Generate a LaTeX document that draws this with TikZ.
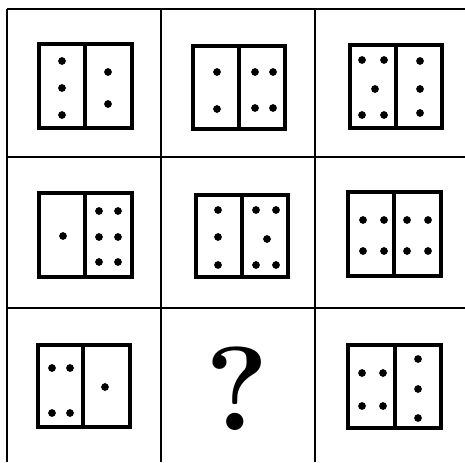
\documentclass[tikz,border=0pt]{standalone}
\usepackage{tikz}

\begin{document}
\begin{tikzpicture}[x=0.02cm, y=-0.02cm, line width=1.2pt]

\useasboundingbox (0,0) rectangle (465,462);

% Grid lines
\draw (7,9) -- (465,9);
\draw (7,157) -- (465,157);
\draw (7,308) -- (465,308);
\draw (7,9) -- (7,462);
\draw (161,9) -- (161,462);
\draw (315,9) -- (315,462);

% First row, first box
\begin{scope}[shift={(39,44)}]
\draw[line width=2pt] (0,0) rectangle (93,84);
\draw[line width=2pt] (46,0) -- (46,84);
\fill (23,17) circle (2.2pt) (23,44) circle (2.2pt) (23,71) circle (2.2pt);
\fill (69,28) circle (2.2pt) (69,60) circle (2.2pt);
\end{scope}

% First row, second box
\begin{scope}[shift={(193,46)}]
\draw[line width=2pt] (0,0) rectangle (92,83);
\draw[line width=2pt] (46,0) -- (46,83);
\fill (24,26) circle (2.2pt) (24,63) circle (2.2pt);
\fill (62,26) circle (2.2pt) (80,26) circle (2.2pt) (62,62) circle (2.2pt) (80,62) circle (2.2pt);
\end{scope}

% First row, third box
\begin{scope}[shift={(350,45)}]
\draw[line width=2pt] (0,0) rectangle (92,83);
\draw[line width=2pt] (46,0) -- (46,83);
\fill (12,15) circle (2.2pt) (34,15) circle (2.2pt) (25,44) circle (2.2pt) (12,70) circle (2.2pt) (34,70) circle (2.2pt);
\fill (70,16) circle (2.2pt) (70,44) circle (2.2pt) (70,68) circle (2.2pt);
\end{scope}

% Second row, first box
\begin{scope}[shift={(39,193)}]
\draw[line width=2pt] (0,0) rectangle (93,84);
\draw[line width=2pt] (46,0) -- (46,84);
\fill (24,43) circle (2.2pt);
\fill (60,18) circle (2.2pt) (79,18) circle (2.2pt) (60,44) circle (2.2pt) (79,44) circle (2.2pt) (60,69) circle (2.2pt) (79,69) circle (2.2pt);
\end{scope}

% Second row, second box
\begin{scope}[shift={(196,195)}]
\draw[line width=2pt] (0,0) rectangle (92,82);
\draw[line width=2pt] (46,0) -- (46,82);
\fill (22,15) circle (2.2pt) (22,42) circle (2.2pt) (22,70) circle (2.2pt);
\fill (60,15) circle (2.2pt) (80,15) circle (2.2pt) (71,44) circle (2.2pt) (60,70) circle (2.2pt) (80,70) circle (2.2pt);
\end{scope}

% Second row, third box
\begin{scope}[shift={(348,192)}]
\draw[line width=2pt] (0,0) rectangle (93,84);
\draw[line width=2pt] (46,0) -- (46,84);
\fill (15,28) circle (2.2pt) (36,28) circle (2.2pt) (15,59) circle (2.2pt) (36,59) circle (2.2pt);
\fill (59,28) circle (2.2pt) (80,28) circle (2.2pt) (59,59) circle (2.2pt) (80,59) circle (2.2pt);
\end{scope}

% Third row, first box
\begin{scope}[shift={(38,345)}]
\draw[line width=2pt] (0,0) rectangle (92,82);
\draw[line width=2pt] (45,0) -- (45,82);
\fill (14,23) circle (2.2pt) (32,23) circle (2.2pt) (14,68) circle (2.2pt) (32,68) circle (2.2pt);
\fill (67,42) circle (2.2pt);
\end{scope}

% Missing figure
\node[font=\fontsize{68}{68}\selectfont\bfseries, inner sep=0pt] (qmark) at (237,389) {?};

% Third row, third box
\begin{scope}[shift={(348,345)}]
\draw[line width=2pt] (0,0) rectangle (93,83);
\draw[line width=2pt] (47,0) -- (47,83);
\fill (14,28) circle (2.2pt) (35,28) circle (2.2pt) (14,61) circle (2.2pt) (35,61) circle (2.2pt);
\fill (70,14) circle (2.2pt) (70,44) circle (2.2pt) (70,73) circle (2.2pt);
\end{scope}

\end{tikzpicture}
\end{document}
